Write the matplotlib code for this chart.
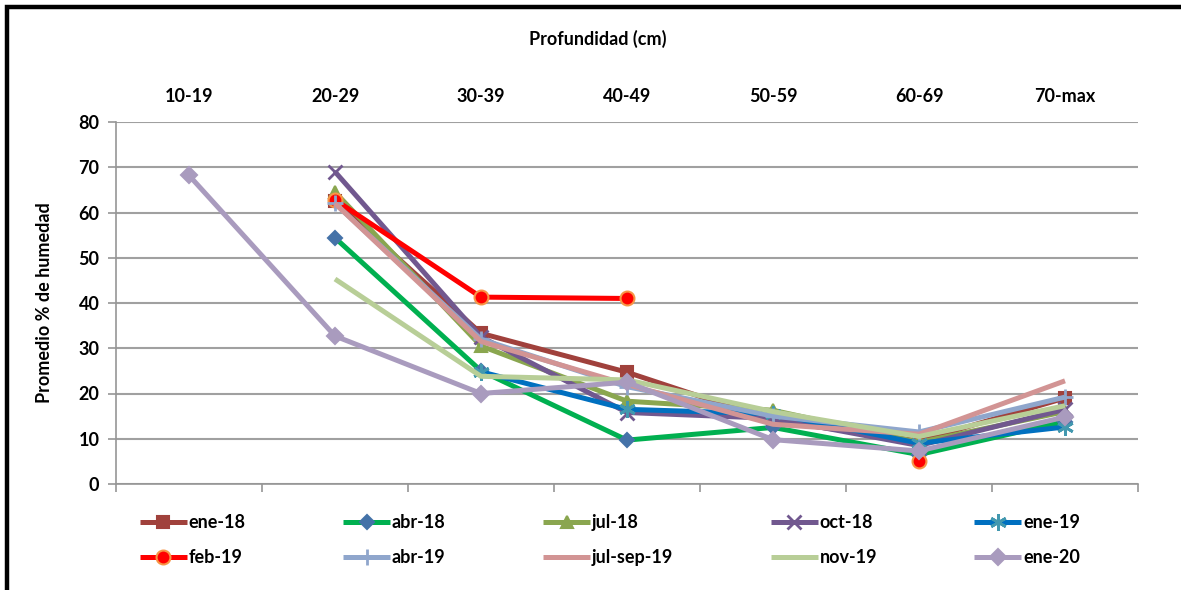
import numpy as np
import matplotlib
matplotlib.use("Agg")
import matplotlib.pyplot as plt
from matplotlib.patches import Rectangle

plt.rcParams['font.family'] = ['Lato', 'DejaVu Sans']
plt.rcParams['font.weight'] = 'bold'

# Categories (depth ranges)
profundidad = ["10-19", "20-29", "30-39", "40-49", "50-59", "60-69", "70-max"]
nan = np.nan

# Moisture averages per sampling date
ene_18 = [nan, 62.5, 33.3, 24.7, 14.0, 9.5, 19.0]
abr_18 = [nan, 54.4, 25.0, 9.7, 12.5, 6.5, 13.8]
jul_18 = [nan, 64.5, 30.5, 18.3, 16.3, 9.2, 16.0]
oct_18 = [nan, 69.0, 32.5, 15.8, 14.5, 8.5, 16.5]
ene_19 = [nan, nan, 24.8, 16.5, 15.5, 9.0, 12.6]
feb_19 = [nan, 62.8, 41.3, 41.0, nan, 5.0, nan]
abr_19 = [nan, 62.0, 32.0, 21.5, 15.0, 11.5, 19.2]
jul_sep_19 = [nan, 62.0, 31.5, 22.0, 13.2, 11.0, 22.8]
nov_19 = [nan, 45.3, 23.8, 23.0, 16.0, 10.5, 17.3]
ene_20 = [68.2, 32.7, 20.0, 22.5, 9.8, 7.3, 14.8]

series = [
    ("ene-18", ene_18, "#A0413C", "s", "#A0413C", "#A0413C", 9),
    ("abr-18", abr_18, "#00B050", "D", "#4472A8", "#4472A8", 7),
    ("jul-18", jul_18, "#8AA64F", "^", "#8AA64F", "#8AA64F", 9),
    ("oct-18", oct_18, "#71588F", "x", "#71588F", "#71588F", 10),
    ("ene-19", ene_19, "#0070C0", (6, 2, 0), "#4298AF", "#4298AF", 12),
    ("feb-19", feb_19, "#FF0000", "o", "#FF0000", "#F79646", 10),
    ("abr-19", abr_19, "#8FA6CC", "+", "#8FA6CC", "#8FA6CC", 12),
    ("jul-sep-19", jul_sep_19, "#D29494", "", None, None, 0),
    ("nov-19", nov_19, "#B8CE97", "", None, None, 0),
    ("ene-20", ene_20, "#A99BBE", "D", "#A99BBE", "#A99BBE", 8),
]

W, H = 1181, 590
fig = plt.figure(figsize=(W / 100, H / 100), dpi=100)
ax = fig.add_axes([116 / W, 1 - 484 / H, (1138 - 116) / W, (484 - 122) / H])

x = np.arange(len(profundidad))
handles = []
for name, vals, col, mk, mfc, mec, ms in series:
    kw = dict(color=col, lw=3.6, label=name, solid_capstyle='butt', zorder=3)
    if mk:
        kw.update(marker=mk, markerfacecolor=mfc, markeredgecolor=mec,
                  markersize=ms, markeredgewidth=1.5 if mk not in ("x", "+", (6, 2, 0)) else 2)
    ln, = ax.plot(x, vals, **kw)
    handles.append(ln)

ax.set_xlim(-0.5, 6.5)
ax.set_ylim(0, 80)
ax.set_yticks(np.arange(0, 81, 10))
ax.yaxis.grid(True, color="#A0A0A0", lw=1.5)
ax.set_axisbelow(True)

for s in ("top", "right"):
    ax.spines[s].set_visible(False)
for s in ("left", "bottom"):
    ax.spines[s].set_color("#969696")
    ax.spines[s].set_linewidth(1.2)

ax.set_xticks(x)
ax.set_xticklabels(profundidad, fontsize=13, fontweight='bold')
ax.set_xticks(np.arange(-0.5, 7.0, 1.0), minor=True)
ax.xaxis.set_ticks_position('top')
ax.tick_params(axis='x', which='major', top=True, bottom=False, length=0, pad=12)
ax.tick_params(axis='x', which='minor', top=False, bottom=True, length=6,
               color="#969696", width=1.2)
ax.tick_params(axis='y', length=6, color="#969696", width=1.2, pad=6,
               labelsize=13)
for t in ax.get_yticklabels():
    t.set_fontweight('bold')

fig.text(598 / W, 1 - 39 / H, "Profundidad (cm)", ha='center', va='center',
         fontsize=13, fontweight='bold')
fig.text(45 / W, 1 - 303 / H, "Promedio % de humedad", ha='center', va='center',
         rotation=90, fontsize=13, fontweight='bold')

order = [0, 5, 1, 6, 2, 7, 3, 8, 4, 9]
leg = fig.legend([handles[i] for i in order], [series[i][0] for i in order],
                 ncol=5, loc='center', bbox_to_anchor=(610 / W, 1 - 540 / H),
                 frameon=False, fontsize=13, handlelength=2.6, handletextpad=0.1,
                 columnspacing=5.4, labelspacing=1.0)
for t in leg.get_texts():
    t.set_fontweight('bold')

# outer chart frame (only top and left edges visible)
fig.patches.append(Rectangle((7 / W, -0.1), 1.2, 1 - 7 / H + 0.1,
                             transform=fig.transFigure, fill=False,
                             edgecolor='black', lw=3.2))

fig.savefig("out.png", dpi=100)
